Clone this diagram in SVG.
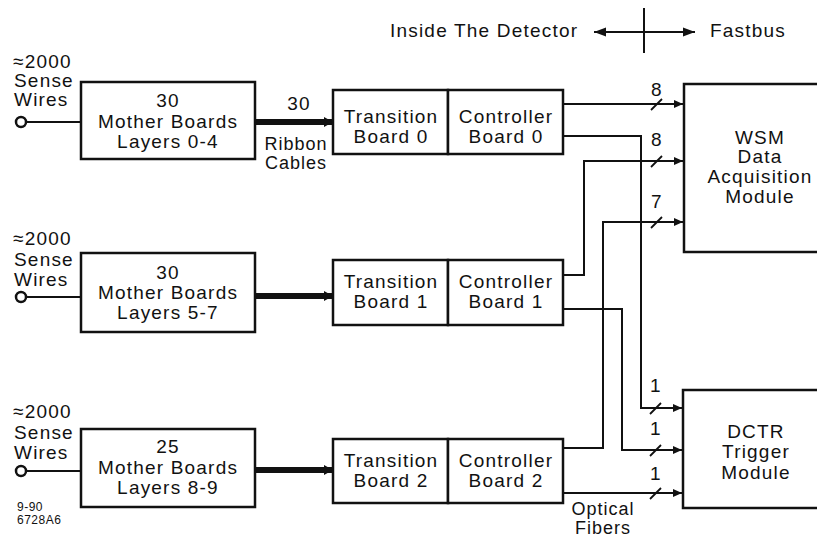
<svg xmlns="http://www.w3.org/2000/svg" width="817" height="537" viewBox="0 0 817 537">
<defs>
<style>
text{font-family:"Liberation Sans",Arial,sans-serif;font-size:19px;letter-spacing:1.2px;fill:#111}
.c{text-anchor:middle}
.lb{font-size:18px;letter-spacing:1px}
.sm{font-size:12px;letter-spacing:0.5px}
.box{fill:#fff;stroke:#111;stroke-width:2.5}
.ln{fill:none;stroke:#111;stroke-width:2}
.tk{fill:none;stroke:#111;stroke-width:1.8}
.rib{fill:none;stroke:#111;stroke-width:6}
</style>
<marker id="ah" markerUnits="userSpaceOnUse" markerWidth="10" markerHeight="10" refX="9" refY="5" orient="auto" viewBox="0 0 10 10">
<path d="M0,1 L9,5 L0,9 Z" fill="#111"/>
</marker>
<marker id="hh" markerUnits="userSpaceOnUse" markerWidth="13" markerHeight="10" refX="12" refY="5" orient="auto-start-reverse" viewBox="0 0 13 10">
<path d="M0,0.5 L12,5 L0,9.5 Z" fill="#111"/>
</marker>
<marker id="rh" markerUnits="userSpaceOnUse" markerWidth="10" markerHeight="12" refX="9" refY="6" orient="auto" viewBox="0 0 10 12">
<path d="M0,1 L9,6 L0,11 Z" fill="#111"/>
</marker>
</defs>

<g id="header">
<text x="390" y="37">Inside The Detector</text>
<line class="ln" x1="594" y1="32" x2="695" y2="32" marker-start="url(#hh)" marker-end="url(#hh)"/>
<line class="ln" x1="644" y1="8" x2="644" y2="53"/>
<text x="710" y="37">Fastbus</text>
</g>

<g id="sense0">
<text x="13" y="68">≈2000</text>
<text x="14" y="87">Sense</text>
<text x="14" y="106">Wires</text>
<circle cx="21" cy="122" r="5" fill="#fff" stroke="#111" stroke-width="2.5"/>
</g>
<g id="sense1">
<text x="13" y="245">≈2000</text>
<text x="14" y="266">Sense</text>
<text x="14" y="286">Wires</text>
<circle cx="21" cy="297" r="5" fill="#fff" stroke="#111" stroke-width="2.5"/>
</g>
<g id="sense2">
<text x="13" y="418">≈2000</text>
<text x="14" y="439">Sense</text>
<text x="14" y="459">Wires</text>
<circle cx="21" cy="471" r="5" fill="#fff" stroke="#111" stroke-width="2.5"/>
</g>

<g id="mother0">
<rect class="box" x="81" y="82" width="174" height="77"/>
<text class="c" x="168" y="107">30</text>
<text class="c" x="168" y="128">Mother Boards</text>
<text class="c" x="168" y="148">Layers 0-4</text>
</g>
<g id="mother1">
<rect class="box" x="81" y="253" width="174" height="79"/>
<text class="c" x="168" y="279">30</text>
<text class="c" x="168" y="299">Mother Boards</text>
<text class="c" x="168" y="319">Layers 5-7</text>
</g>
<g id="mother2">
<rect class="box" x="81" y="429" width="174" height="78"/>
<text class="c" x="168" y="453">25</text>
<text class="c" x="168" y="474">Mother Boards</text>
<text class="c" x="168" y="494">Layers 8-9</text>
</g>

<g id="transition0">
<rect class="box" x="333" y="90" width="115" height="64"/>
<text class="c" x="391" y="123">Transition</text>
<text class="c" x="391" y="143">Board 0</text>
</g>
<g id="controller0">
<rect class="box" x="448" y="90" width="115" height="64"/>
<text class="c" x="506" y="123">Controller</text>
<text class="c" x="506" y="143">Board 0</text>
</g>
<g id="transition1">
<rect class="box" x="333" y="260" width="115" height="65"/>
<text class="c" x="391" y="288">Transition</text>
<text class="c" x="391" y="308">Board 1</text>
</g>
<g id="controller1">
<rect class="box" x="448" y="260" width="115" height="65"/>
<text class="c" x="506" y="288">Controller</text>
<text class="c" x="506" y="308">Board 1</text>
</g>
<g id="transition2">
<rect class="box" x="333" y="439" width="115" height="64"/>
<text class="c" x="391" y="467">Transition</text>
<text class="c" x="391" y="487">Board 2</text>
</g>
<g id="controller2">
<rect class="box" x="448" y="439" width="115" height="64"/>
<text class="c" x="506" y="467">Controller</text>
<text class="c" x="506" y="487">Board 2</text>
</g>

<g id="wsm">
<rect class="box" x="684" y="84" width="150" height="168"/>
<text class="c" x="760" y="144">WSM</text>
<text class="c" x="760" y="163">Data</text>
<text class="c" x="760" y="183">Acquisition</text>
<text class="c" x="760" y="203">Module</text>
</g>
<g id="dctr">
<rect class="box" x="683" y="390" width="150" height="118"/>
<text class="c" x="756" y="438">DCTR</text>
<text class="c" x="756" y="458">Trigger</text>
<text class="c" x="756" y="479">Module</text>
</g>

<g id="connectors">
<line class="ln" x1="26" y1="122" x2="81" y2="122"/>
<line class="ln" x1="26" y1="297" x2="81" y2="297"/>
<line class="ln" x1="26" y1="471" x2="81" y2="471"/>

<line class="rib" x1="255" y1="122" x2="333" y2="122" marker-end="url(#rh)"/>
<line class="rib" x1="255" y1="296" x2="333" y2="296" marker-end="url(#rh)"/>
<line class="rib" x1="255" y1="470" x2="333" y2="470" marker-end="url(#rh)"/>

<polyline class="ln" points="563,104 683,104" marker-end="url(#ah)"/>
<polyline class="ln" points="563,275 584,275 584,161 683,161" marker-end="url(#ah)"/>
<polyline class="ln" points="563,448 603,448 603,222 683,222" marker-end="url(#ah)"/>
<polyline class="ln" points="563,136 641,136 641,408 682,408" marker-end="url(#ah)"/>
<polyline class="ln" points="563,309 622,309 622,450 682,450" marker-end="url(#ah)"/>
<polyline class="ln" points="563,493 682,493" marker-end="url(#ah)"/>

<line class="tk" x1="651" y1="110" x2="662" y2="99"/>
<line class="tk" x1="651" y1="167" x2="662" y2="156"/>
<line class="tk" x1="651" y1="228" x2="662" y2="217"/>
<line class="tk" x1="650" y1="414" x2="661" y2="403"/>
<line class="tk" x1="650" y1="456" x2="661" y2="445"/>
<line class="tk" x1="650" y1="499" x2="661" y2="488"/>

<text class="c" x="299" y="110">30</text>
<text class="c lb" x="296" y="150">Ribbon</text>
<text class="c lb" x="296" y="169">Cables</text>
<text class="c" x="657" y="96">8</text>
<text class="c" x="657" y="146">8</text>
<text class="c" x="657" y="208">7</text>
<text class="c" x="656" y="392">1</text>
<text class="c" x="656" y="435">1</text>
<text class="c" x="656" y="480">1</text>
<text class="c lb" x="603" y="515">Optical</text>
<text class="c lb" x="603" y="534">Fibers</text>
</g>

<g id="code">
<text class="sm" x="17" y="511">9-90</text>
<text class="sm" x="17" y="524">6728A6</text>
</g>
</svg>
